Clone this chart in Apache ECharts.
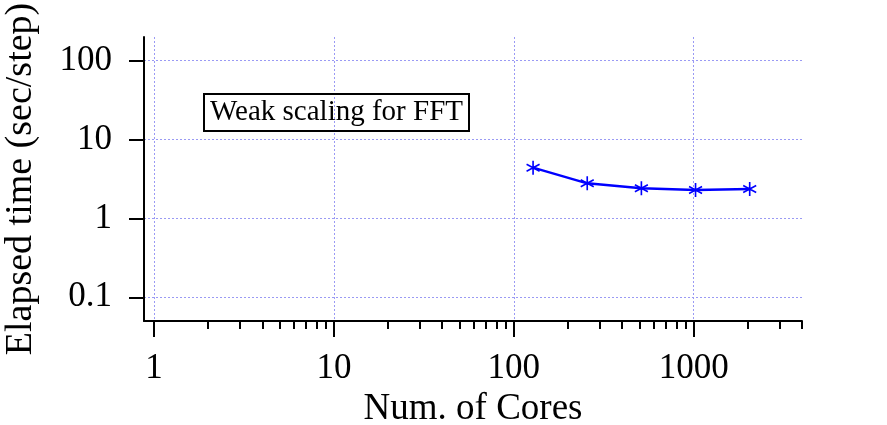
<!DOCTYPE html>
<html>
<head>
<meta charset="utf-8">
<script src="https://cdn.jsdelivr.net/npm/echarts@6/dist/echarts.min.js"></script>
<style>html,body{margin:0;padding:0;background:#fff}#c{width:887px;height:425px}</style>
</head>
<body>
<div id="c"></div>
<script>
var cores = [128, 256, 512, 1024, 2048];
var elapsed = [4.40, 2.79, 2.41, 2.29, 2.36];
var xMajorTicks = [1, 10, 100, 1000];
var xMinorTicks = [2, 3, 4, 5, 6, 7, 8, 9, 20, 30, 40, 50, 60, 70, 80, 90, 200, 300, 400, 500, 600, 700, 800, 900, 2000, 3000, 4000];
var yMajorTicks = [0.1, 1, 10, 100];
var titleText = 'Weak scaling for FFT';
var xName = 'Num. of Cores';
var yName = 'Elapsed time (sec/step)';

var serif = 'Liberation Serif';
var gridColor = '#9a9af4';
function plain(v) { return String(v); }
var chart = echarts.init(document.getElementById('c'));
chart.setOption({
  animation: false,
  backgroundColor: '#fff',
  title: {
    text: titleText,
    left: 204, top: 94,
    padding: [4, 6, 4, 6],
    borderColor: '#000', borderWidth: 2,
    textStyle: { fontFamily: serif, fontSize: 29, fontWeight: 'normal', color: '#000' }
  },
  grid: { left: 144, right: 85, top: 37, bottom: 104, containLabel: false, outerBoundsMode: 'none' },
  xAxis: [{
    type: 'log', logBase: 10, min: 0.88, max: 4000,
    name: xName, nameLocation: 'middle', nameGap: 64,
    nameTextStyle: { fontFamily: serif, fontSize: 37, color: '#000' },
    axisLine: { lineStyle: { color: '#000', width: 2 } },
    axisTick: { show: true, inside: false, length: 16, lineStyle: { color: '#000', width: 2 }, customValues: xMajorTicks },
    axisLabel: { fontFamily: serif, fontSize: 35, color: '#000', margin: 30, customValues: xMajorTicks, formatter: plain },
    splitLine: { show: true, customValues: xMajorTicks, lineStyle: { color: gridColor, type: [2, 2], width: 1 } },
    minorTick: { show: false }
  }, {
    type: 'log', logBase: 10, min: 0.88, max: 4000, position: 'bottom', offset: 0,
    axisLine: { show: false },
    axisTick: { show: true, inside: false, length: 8, lineStyle: { color: '#000', width: 2 }, customValues: xMinorTicks },
    axisLabel: { show: false },
    splitLine: { show: false }
  }],
  yAxis: {
    type: 'log', logBase: 10, min: 0.05, max: 200,
    name: yName, nameLocation: 'middle', nameGap: 104, nameRotate: 90,
    nameTextStyle: { fontFamily: serif, fontSize: 38, color: '#000' },
    axisLine: { show: true, lineStyle: { color: '#000', width: 2 } },
    axisTick: { show: true, inside: false, length: 15, lineStyle: { color: '#000', width: 2 }, customValues: yMajorTicks },
    axisLabel: { fontFamily: serif, fontSize: 35, color: '#000', margin: 32, customValues: yMajorTicks, formatter: plain },
    splitLine: { show: true, customValues: yMajorTicks, lineStyle: { color: gridColor, type: [2, 2], width: 1 } }
  },
  series: [{
    type: 'line',
    data: cores.map(function (c, i) { return [c, elapsed[i]]; }),
    symbol: 'path://M0,-6L0,6M-5.2,-3L5.2,3M-5.2,3L5.2,-3',
    symbolSize: [13, 14],
    showSymbol: true,
    lineStyle: { color: '#0000ff', width: 2.4 },
    itemStyle: { color: '#0000ff', borderColor: '#0000ff', borderWidth: 1.7 }
  }]
});
</script>
</body>
</html>
